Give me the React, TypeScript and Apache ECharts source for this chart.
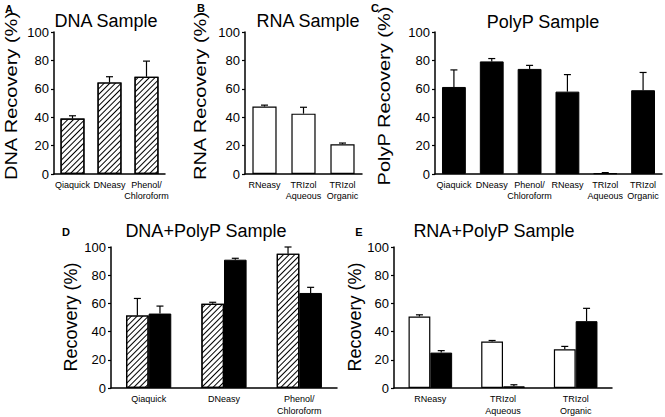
import React, { useEffect, useRef } from "react";
import * as echarts from "echarts";

const dnaCategories = ["Qiaquick", "DNeasy", "Phenol/\nChloroform"];
const dnaValues = [39, 64.5, 68.5];
const dnaErrors = [2, 4, 11];

const rnaCategories = ["RNeasy", "TRIzol\nAqueous", "TRIzol\nOrganic"];
const rnaValues = [47.5, 42.5, 21];
const rnaErrors = [1, 4.5, 0.8];

const polypCategories = ["Qiaquick", "DNeasy", "Phenol/\nChloroform", "RNeasy", "TRIzol\nAqueous", "TRIzol\nOrganic"];
const polypValues = [61.3, 79.3, 74, 58, 0.5, 59];
const polypErrors = [12, 2, 2.5, 12, 0.5, 12.5];

const dnaPolypCategories = ["Qiaquick", "DNeasy", "Phenol/\nChloroform"];
const dnaPolypDna = [51.5, 59.8, 95.3];
const dnaPolypDnaErr = [12, 1, 4.7];
const dnaPolypPolyp = [52.8, 91, 67.4];
const dnaPolypPolypErr = [5.3, 1, 4];

const rnaPolypCategories = ["RNeasy", "TRIzol\nAqueous", "TRIzol\nOrganic"];
const rnaPolypRna = [50.7, 33, 27.4];
const rnaPolypRnaErr = [1.2, 0.7, 2.1];
const rnaPolypPolyp = [25.1, 1.2, 47.4];
const rnaPolypPolypErr = [1.4, 1.1, 9.1];

const yTicks = { min: 0, max: 100, interval: 20 };

const FONT = "Liberation Sans, Arial, sans-serif";

const hatch = {
  symbol: "rect",
  symbolSize: 1,
  dashArrayX: [1, 0],
  dashArrayY: [1, 2.5],
  rotation: -Math.PI / 4,
  color: "#000",
};

function errorSeries(ai: number, values: number[], errors: number[], offsetFrac: number) {
  return {
    type: "custom",
    xAxisIndex: ai,
    yAxisIndex: ai,
    silent: true,
    z: 10,
    data: values.map((v, i) => [i, v, errors[i]]),
    renderItem: (params: any, api: any) => {
      const i = api.value(0);
      const v = api.value(1);
      const e = api.value(2);
      const band = api.size([1, 0])[0];
      const base = api.coord([i, v]);
      const top = api.coord([i, v + e]);
      const x = base[0] + offsetFrac * band;
      return {
        type: "group",
        children: [
          { type: "line", shape: { x1: x, y1: base[1], x2: x, y2: top[1] }, style: { stroke: "#000", lineWidth: 1.2 } },
          { type: "line", shape: { x1: x - 3.5, y1: top[1], x2: x + 3.5, y2: top[1] }, style: { stroke: "#000", lineWidth: 1.2 } },
        ],
      };
    },
  };
}

export default function App() {
  const ref = useRef<HTMLDivElement>(null);
  useEffect(() => {
    if (!ref.current) return;
    const chart = echarts.init(ref.current, null, { renderer: "svg" });
    const grids = [
      { left: 54, top: 32, width: 111, height: 142 },
      { left: 245, top: 32, width: 117, height: 142 },
      { left: 435, top: 32, width: 227, height: 142 },
      { left: 111, top: 247, width: 226, height: 141 },
      { left: 394, top: 247, width: 218, height: 141 },
    ];
    const cats = [dnaCategories, rnaCategories, polypCategories, dnaPolypCategories, rnaPolypCategories];
    const xAxes = cats.map((c, i) => ({
      type: "category",
      gridIndex: i,
      data: c,
      axisLine: { lineStyle: { color: "#000", width: 1.5 } },
      axisTick: { show: false },
      axisLabel: { color: "#000", fontSize: 9, fontFamily: FONT, interval: 0, lineHeight: i >= 3 ? 12 : 11, margin: 5 },
    }));
    const yAxes = grids.map((g, i) => ({
      type: "value",
      gridIndex: i,
      ...yTicks,
      axisLine: { show: true, lineStyle: { color: "#000", width: 1.5 } },
      axisTick: { show: true, length: 3, lineStyle: { color: "#000", width: 1.2 } },
      splitLine: { show: false },
      axisLabel: { color: "#000", fontSize: 13, fontFamily: FONT, margin: 5 },
    }));

    const whiteStyle = { color: "#fff", borderColor: "#000", borderWidth: 1.2 };
    const hatchStyle = { color: "#fff", borderColor: "#000", borderWidth: 1.2, decal: hatch };
    const blackStyle = { color: "#000", borderColor: "#000", borderWidth: 1 };

    const series: any[] = [
      { type: "bar", xAxisIndex: 0, yAxisIndex: 0, data: dnaValues, barWidth: "65%", itemStyle: hatchStyle },
      errorSeries(0, dnaValues, dnaErrors, 0),
      { type: "bar", xAxisIndex: 1, yAxisIndex: 1, data: rnaValues, barWidth: "62%", itemStyle: whiteStyle },
      errorSeries(1, rnaValues, rnaErrors, 0),
      { type: "bar", xAxisIndex: 2, yAxisIndex: 2, data: polypValues, barWidth: "63%", itemStyle: blackStyle },
      errorSeries(2, polypValues, polypErrors, 0),
      { type: "bar", xAxisIndex: 3, yAxisIndex: 3, data: dnaPolypDna, barWidth: "30%", barGap: "0%", itemStyle: hatchStyle },
      { type: "bar", xAxisIndex: 3, yAxisIndex: 3, data: dnaPolypPolyp, barWidth: "30%", barGap: "0%", itemStyle: blackStyle },
      errorSeries(3, dnaPolypDna, dnaPolypDnaErr, -0.15),
      errorSeries(3, dnaPolypPolyp, dnaPolypPolypErr, 0.15),
      { type: "bar", xAxisIndex: 4, yAxisIndex: 4, data: rnaPolypRna, barWidth: "30%", barGap: "0%", itemStyle: whiteStyle },
      { type: "bar", xAxisIndex: 4, yAxisIndex: 4, data: rnaPolypPolyp, barWidth: "30%", barGap: "0%", itemStyle: blackStyle },
      errorSeries(4, rnaPolypRna, rnaPolypRnaErr, -0.15),
      errorSeries(4, rnaPolypPolyp, rnaPolypPolypErr, 0.15),
    ];

    const text = (t: string, x: number, y: number, size: number, bold = false, rot = 0, sx = 1) => ({
      type: "text",
      x,
      y,
      rotation: rot,
      scaleX: sx,
      style: {
        text: t,
        fill: "#000",
        font: `${bold ? "bold " : ""}${size}px ${FONT}`,
        textAlign: "center",
        textVerticalAlign: "middle",
      },
    });

    const graphic = [
      text("A", 9, 9, 11, true),
      text("B", 201, 8, 11, true),
      text("C", 375, 8, 11, true),
      text("D", 66, 232, 11, true),
      text("E", 359, 232, 11, true),
      text("DNA Sample", 106, 21, 18),
      text("RNA Sample", 308, 21, 18),
      text("PolyP Sample", 543, 22, 18),
      text("DNA+PolyP Sample", 206, 231, 18),
      text("RNA+PolyP Sample", 494, 231, 18),
      text("DNA Recovery (%)", 11, 96, 17, false, Math.PI / 2, 1.18),
      text("RNA Recovery (%)", 200, 96, 17, false, Math.PI / 2, 1.18),
      text("PolyP Recovery (%)", 384, 96, 17, false, Math.PI / 2, 1.18),
      text("Recovery (%)", 71, 317, 18, false, Math.PI / 2),
      text("Recovery (%)", 355, 317, 18, false, Math.PI / 2),
    ];

    chart.setOption({
      animation: false,
      backgroundColor: "#fff",
      grid: grids,
      xAxis: xAxes,
      yAxis: yAxes,
      series,
      graphic,
    });
    return () => chart.dispose();
  }, []);
  return <div ref={ref} style={{ position: "fixed", left: 0, top: 0, width: 665, height: 417 }} />;
}
